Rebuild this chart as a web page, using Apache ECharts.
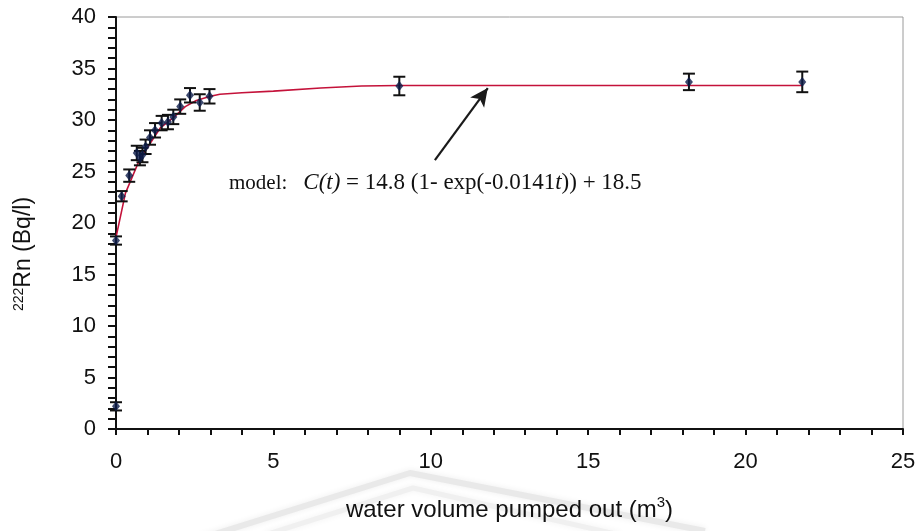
<!DOCTYPE html>
<html>
<head>
<meta charset="utf-8">
<script src="https://cdn.jsdelivr.net/npm/echarts@6/dist/echarts.min.js"></script>
<style>
  html, body { margin: 0; padding: 0; background: #ffffff; }
  #chart { width: 923px; height: 531px; }
</style>
</head>
<body>
<div id="chart"></div>
<script>
// Measured radon activity versus pumped water volume
const volume = [0, 0, 0.18, 0.42, 0.66, 0.76, 0.84, 0.94, 1.08, 1.24, 1.45, 1.65, 1.82, 2.04, 2.35, 2.66, 2.97, 9.0, 18.2, 21.8];
const radon  = [2.2, 18.3, 22.6, 24.6, 26.8, 26.3, 26.6, 27.4, 28.3, 29.0, 29.7, 29.8, 30.3, 31.3, 32.4, 31.7, 32.3, 33.3, 33.7, 33.7];
const radonErr = [0.4, 0.4, 0.5, 0.6, 0.7, 0.7, 0.7, 0.7, 0.7, 0.7, 0.7, 0.7, 0.7, 0.7, 0.7, 0.8, 0.7, 0.9, 0.8, 1.0];

// Fitted model curve
const fitVolume = [0, 0.3, 0.7, 0.95, 1.4, 1.85, 2.2, 2.55, 3.0, 3.3, 4.0, 5.0, 6.5, 7.8, 9.0, 12, 15, 18.2, 21.8];
const fitRadon  = [18.6, 22.9, 25.8, 27.1, 29.2, 30.3, 31.3, 31.9, 32.3, 32.5, 32.65, 32.8, 33.1, 33.3, 33.35, 33.35, 33.35, 33.35, 33.35];

// Arrow pointing from the model label to the curve (data coordinates)
const arrowFrom = [10.13, 26.1];
const arrowTo   = [11.81, 33.1];

const modelLabel = '{m|model:}{i|C(t)} = 14.8 (1- exp(-0.0141{i|t})) + 18.5';
const xTitle = 'water volume pumped out (m{sup|3})';
const yTitle = '{sup|222}Rn (Bq/l)';

const pts = volume.map((v, i) => [v, radon[i]]);
const bars = volume.map((v, i) => [v, radon[i], radonErr[i]]);
const fit = fitVolume.map((v, i) => [v, fitRadon[i]]);

const chart = echarts.init(document.getElementById('chart'), null, { renderer: 'canvas' });

const axisFont = 'Liberation Sans, Arial, sans-serif';
const serif = 'Liberation Serif, Times New Roman, serif';

chart.setOption({
  backgroundColor: '#ffffff',
  animation: false,
  grid: {
    left: 116, right: 20, top: 17, bottom: 102,
    show: true, borderColor: '#9a9a9a', borderWidth: 1, backgroundColor: 'transparent'
  },
  xAxis: {
    type: 'value', min: 0, max: 25, interval: 5,
    axisLine: { show: true, onZero: false, lineStyle: { color: '#111', width: 2 } },
    axisTick: { show: true, length: 6, lineStyle: { color: '#111', width: 2 } },
    minorTick: { show: true, splitNumber: 5, length: 6, lineStyle: { color: '#111', width: 2 } },
    splitLine: { show: false },
    axisLabel: { color: '#111', fontSize: 22, fontFamily: axisFont, margin: 22 },
    name: xTitle,
    nameLocation: 'middle',
    nameGap: 66,
    nameTextStyle: {
      color: '#111', fontSize: 24, fontFamily: axisFont, lineHeight: 30,
      rich: { sup: { fontSize: 15, fontFamily: axisFont, color: '#111', verticalAlign: 'top', lineHeight: 15 } }
    }
  },
  yAxis: {
    type: 'value', min: 0, max: 40, interval: 5,
    axisLine: { show: true, onZero: false, lineStyle: { color: '#111', width: 2 } },
    axisTick: { show: true, length: 8, lineStyle: { color: '#111', width: 2 } },
    minorTick: { show: true, splitNumber: 5, length: 8, lineStyle: { color: '#111', width: 2 } },
    splitLine: { show: false },
    axisLabel: { color: '#111', fontSize: 22, fontFamily: axisFont, margin: 20 }
  },
  graphic: [
    // faint background roof lines
    {
      type: 'polyline', z: -10, silent: true,
      shape: { points: [[180, 545], [410, 473], [705, 531]] },
      style: { stroke: '#e9e9e9', lineWidth: 6, fill: null, lineJoin: 'round', shadowBlur: 6, shadowColor: '#eeeeee' }
    },
    {
      type: 'polyline', z: -10, silent: true,
      shape: { points: [[265, 535], [413, 488], [620, 535]] },
      style: { stroke: '#f0f0f0', lineWidth: 5, fill: null, lineJoin: 'round', shadowBlur: 6, shadowColor: '#f2f2f2' }
    },
    {
      type: 'text', x: 24, y: 254, rotation: Math.PI / 2, z: 10,
      style: {
        text: yTitle, fill: '#111', fontSize: 23, fontFamily: axisFont,
        align: 'center', verticalAlign: 'middle',
        rich: { sup: { fontSize: 14, fontFamily: axisFont, fill: '#111', verticalAlign: 'top', lineHeight: 14 } }
      }
    },
    {
      type: 'text', x: 229, y: 183, z: 10,
      style: {
        text: modelLabel, fill: '#111', fontSize: 23, fontFamily: serif,
        align: 'left', verticalAlign: 'middle',
        rich: {
          m: { fontSize: 21, fontFamily: serif, fill: '#111', padding: [0, 16, 0, 0] },
          i: { fontSize: 23, fontStyle: 'italic', fontFamily: serif, fill: '#111' }
        }
      }
    }
  ],
  series: [
    {
      name: 'model',
      type: 'line',
      data: fit,
      showSymbol: false,
      symbol: 'none',
      lineStyle: { color: '#c4123a', width: 1.6 },
      z: 2,
      markLine: {
        silent: true,
        symbol: ['none', 'arrow'],
        symbolSize: [13, 18],
        label: { show: false },
        lineStyle: { color: '#1a1a1a', width: 2.2, type: 'solid' },
        data: [[{ coord: arrowFrom }, { coord: arrowTo }]]
      }
    },
    {
      name: 'error',
      type: 'custom',
      data: bars,
      z: 3,
      renderItem: function (params, api) {
        const x = api.value(0), y = api.value(1), e = api.value(2);
        const top = api.coord([x, y + e]);
        const bot = api.coord([x, y - e]);
        const half = 6;
        const st = { stroke: '#111', lineWidth: 2 };
        return {
          type: 'group',
          children: [
            { type: 'line', shape: { x1: top[0], y1: top[1], x2: bot[0], y2: bot[1] }, style: st },
            { type: 'line', shape: { x1: top[0] - half, y1: top[1], x2: top[0] + half, y2: top[1] }, style: st },
            { type: 'line', shape: { x1: bot[0] - half, y1: bot[1], x2: bot[0] + half, y2: bot[1] }, style: st }
          ]
        };
      }
    },
    {
      name: 'measured',
      type: 'scatter',
      data: pts,
      symbol: 'diamond',
      symbolSize: [8, 10],
      itemStyle: { color: '#0d1c4a' },
      z: 4
    }
  ]
});
</script>
</body>
</html>
